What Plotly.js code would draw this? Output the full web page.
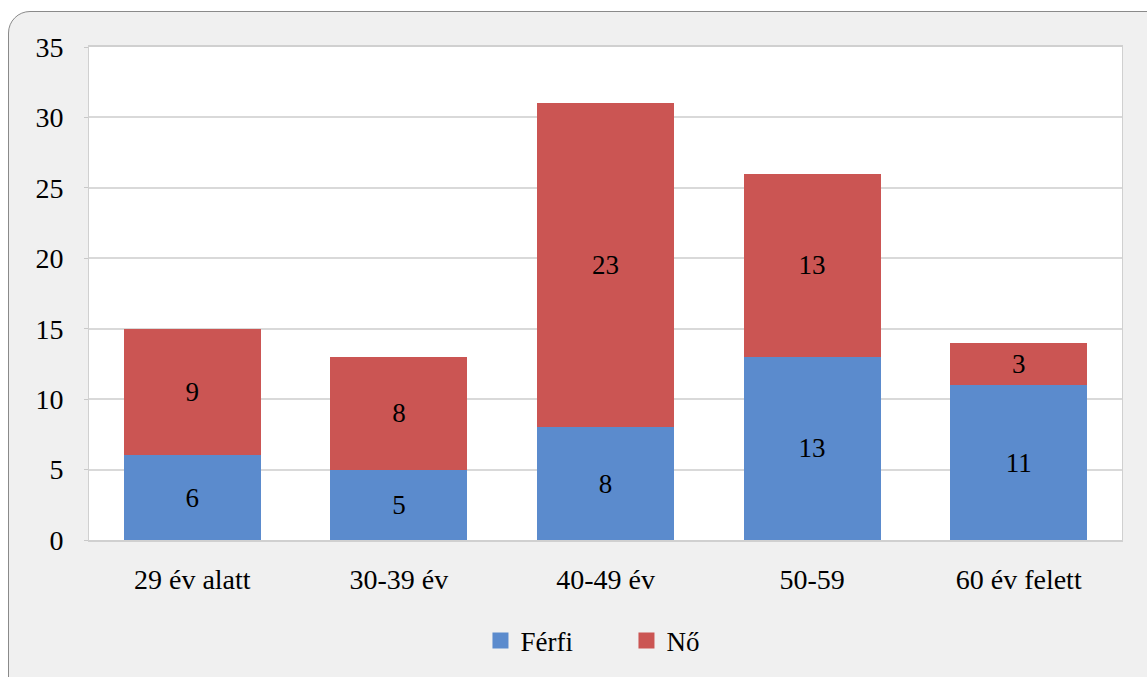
<!DOCTYPE html>
<html>
<head>
<meta charset="utf-8">
<script src="https://cdn.plot.ly/plotly-3.0.1.min.js"></script>
<style>
html,body{margin:0;padding:0;background:#ffffff;overflow:hidden;}
#frame{position:absolute;left:8px;top:11px;width:1170px;height:700px;background:#f0f0f0;border:1px solid #8a8a8a;border-radius:22px;}
#chart{position:absolute;left:0;top:0;width:1147px;height:677px;}
</style>
</head>
<body>
<div id="frame"></div>
<div id="chart"></div>
<script>
var categories = ["29 év alatt", "30-39 év", "40-49 év", "50-59", "60 év felett"];
var ferfi = [6, 5, 8, 13, 11];
var no = [9, 8, 23, 13, 3];
var seriesNames = ["Férfi", "Nő"];
var seriesColors = ["#5b8bcd", "#cb5553"];
var yTicks = [0, 5, 10, 15, 20, 25, 30, 35];

var font = "Liberation Serif";
var fs = 28;

var traces = [
  {
    type: "bar", name: seriesNames[0], x: categories, y: ferfi, showlegend: false,
    text: ferfi.map(String), textposition: "inside", insidetextanchor: "middle",
    textfont: {family: font, size: 27, color: "#000000"},
    marker: {color: seriesColors[0]}, hoverinfo: "x+y+name"
  },
  {
    type: "bar", name: seriesNames[1], x: categories, y: no, showlegend: false,
    text: no.map(String), textposition: "inside", insidetextanchor: "middle",
    textfont: {family: font, size: 27, color: "#000000"},
    marker: {color: seriesColors[1]}, hoverinfo: "x+y+name"
  },
  {
    type: "scatter", mode: "markers", name: seriesNames[0], x: [null], y: [null],
    marker: {symbol: "square", size: 16, color: seriesColors[0]}, showlegend: true
  },
  {
    type: "scatter", mode: "markers", name: seriesNames[1], x: [null], y: [null],
    marker: {symbol: "square", size: 16, color: seriesColors[1]}, showlegend: true
  }
];

var layout = {
  width: 1147, height: 677,
  margin: {l: 89, r: 25, t: 47, b: 137},
  paper_bgcolor: "rgba(0,0,0,0)",
  plot_bgcolor: "#ffffff",
  barmode: "stack",
  bargap: 0.336,
  font: {family: font, size: fs, color: "#000000"},
  showlegend: true,
  legend: {orientation: "h", x: 0.5203, xanchor: "center", y: -0.205, yanchor: "middle",
           entrywidth: 101, entrywidthmode: "pixels", itemwidth: 30,
           font: {family: font, size: 27, color: "#000000"}, bgcolor: "rgba(0,0,0,0)", traceorder: "normal"},
  xaxis: {
    type: "category", showline: true, mirror: true, linecolor: "#d0d0d0", linewidth: 2,
    showgrid: false, ticks: "", ticklabelstandoff: 13,
    tickfont: {family: font, size: fs, color: "#000000"}
  },
  yaxis: {
    range: [0, 35], tickvals: yTicks, ticktext: yTicks.map(String),
    showline: true, mirror: true, linecolor: "#d0d0d0", linewidth: 1,
    showgrid: true, gridcolor: "#d9d9d9", gridwidth: 2, zeroline: false,
    ticks: "outside", ticklen: 4, tickcolor: "#c8c8c8", ticklabelstandoff: 15,
    tickfont: {family: font, size: fs, color: "#000000"}
  }
};

Plotly.newPlot("chart", traces, layout, {displayModeBar: false, staticPlot: true});
</script>
</body>
</html>
